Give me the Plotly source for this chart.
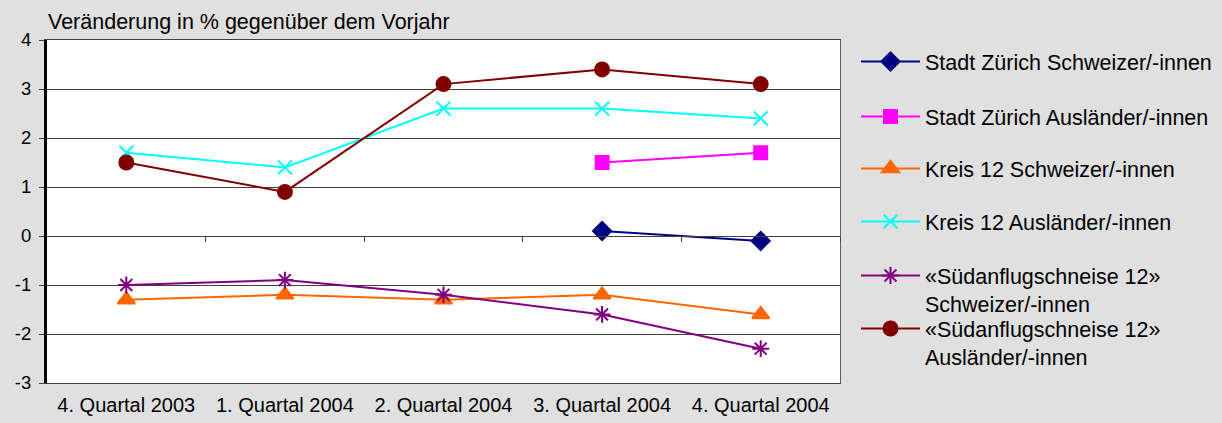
import plotly.graph_objects as go

categories = ["4. Quartal 2003", "1. Quartal 2004", "2. Quartal 2004", "3. Quartal 2004", "4. Quartal 2004"]
series_names = [
    "Stadt Zürich Schweizer/-innen",
    "Stadt Zürich Ausländer/-innen",
    "Kreis 12 Schweizer/-innen",
    "Kreis 12 Ausländer/-innen",
    "«Südanflugschneise 12»<br>Schweizer/-innen",
    "«Südanflugschneise 12»<br>Ausländer/-innen",
]
stadt_ch = [None, None, None, 0.1, -0.1]
stadt_ausl = [None, None, None, 1.5, 1.7]
kreis_ch = [-1.3, -1.2, -1.3, -1.2, -1.6]
kreis_ausl = [1.7, 1.4, 2.6, 2.6, 2.4]
sued_ch = [-1.0, -0.9, -1.2, -1.6, -2.3]
sued_ausl = [1.5, 0.9, 3.1, 3.4, 3.1]
y_ticks = [-3, -2, -1, 0, 1, 2, 3, 4]
y_tick_text = ["-3", "-2", "-1", "0", "1", "2", "3", "4"]

W, H = 1222, 423
L, R, T, B = 47, 382, 40, 40
FONT = "Liberation Sans, Arial, sans-serif"

styles = [
    dict(color="#000080", symbol="diamond", size=14),
    dict(color="#FF00FF", symbol="square", size=13),
    dict(color="#FF6600", symbol="triangle-up", size=15),
    dict(color="#00FFFF", symbol="x-thin-open", size=14),
    dict(color="#800080", symbol="asterisk-open", size=14),
    dict(color="#800000", symbol="circle", size=14),
]
data = [stadt_ch, stadt_ausl, kreis_ch, kreis_ausl, sued_ch, sued_ausl]
xs = list(range(len(categories)))

fig = go.Figure()
legend_ids = ["legend", "legend2", "legend3", "legend4", "legend5", "legend6"]
for name, vals, st, lid in zip(series_names, data, styles, legend_ids):
    fig.add_trace(go.Scatter(
        x=xs, y=vals, name=name, mode="lines+markers",
        line=dict(color=st["color"], width=2),
        marker=dict(color=st["color"], symbol=st["symbol"], size=st["size"],
                    line=dict(color=st["color"], width=2)),
        legend=lid, connectgaps=False,
    ))

# legend item centres (px from top)
legend_centres = [61, 116, 168, 221, 275, 328]
legend_layout = {}
for lid, yc in zip(legend_ids, legend_centres):
    legend_layout[lid] = dict(
        xref="container", yref="container",
        x=856 / W, y=1 - (yc - 20) / H, xanchor="left", yanchor="top",
        bgcolor="rgba(0,0,0,0)", borderwidth=0,
        font=dict(family=FONT, size=21.5, color="#000000"),
        itemwidth=59, valign="top", tracegroupgap=0,
    )

fig.update_layout(
    width=W, height=H,
    margin=dict(l=L, r=R, t=T, b=B, autoexpand=False),
    paper_bgcolor="#E0E0E0",
    plot_bgcolor="#FFFFFF",
    font=dict(family=FONT, size=19, color="#000000"),
    showlegend=True,
    title=dict(text="Veränderung in % gegenüber dem Vorjahr", xref="container", yref="container",
               x=48 / W, y=1 - 21 / H, xanchor="left", yanchor="middle",
               font=dict(family=FONT, size=21.5, color="#000000")),
    xaxis=dict(range=[-0.5, 4.5], tickvals=xs, ticktext=categories, ticks="",
               showgrid=False, zeroline=False, showline=True, linecolor="#404040", linewidth=1,
               mirror=True, tickfont=dict(size=20), ticklabelstandoff=4, automargin=False,
               fixedrange=True),
    xaxis2=dict(range=[-0.5, 4.5], overlaying="x", anchor="free", position=3 / 7, side="bottom",
                tickvals=[0.5, 1.5, 2.5, 3.5, 4.5], ticks="outside", ticklen=5, tickcolor="#404040",
                showticklabels=False, showgrid=False, zeroline=False, automargin=False,
                showline=True, linecolor="#404040", linewidth=1),
    yaxis=dict(range=[-3, 4], tickvals=y_ticks, ticktext=y_tick_text, ticks="outside", ticklen=5,
               tickcolor="#404040", showgrid=True, gridcolor="#404040", gridwidth=1, zeroline=False,
               showline=True, linecolor="#000000", linewidth=3, tickfont=dict(size=18.5),
               ticklabelstandoff=4, automargin=False),
    yaxis2=dict(range=[-3, 4], overlaying="y", side="right", showline=True, linecolor="#606060",
                linewidth=1, showticklabels=False, ticks="", showgrid=False, zeroline=False,
                automargin=False),
    **legend_layout,
)
# invisible trace to activate the secondary axes
fig.add_trace(go.Scatter(x=[None], y=[None], xaxis="x2", yaxis="y2", showlegend=False, hoverinfo="skip"))

fig.write_html("out.html", config={"displayModeBar": False},
               post_script="document.body.style.margin='0px';document.body.style.padding='0px';")
